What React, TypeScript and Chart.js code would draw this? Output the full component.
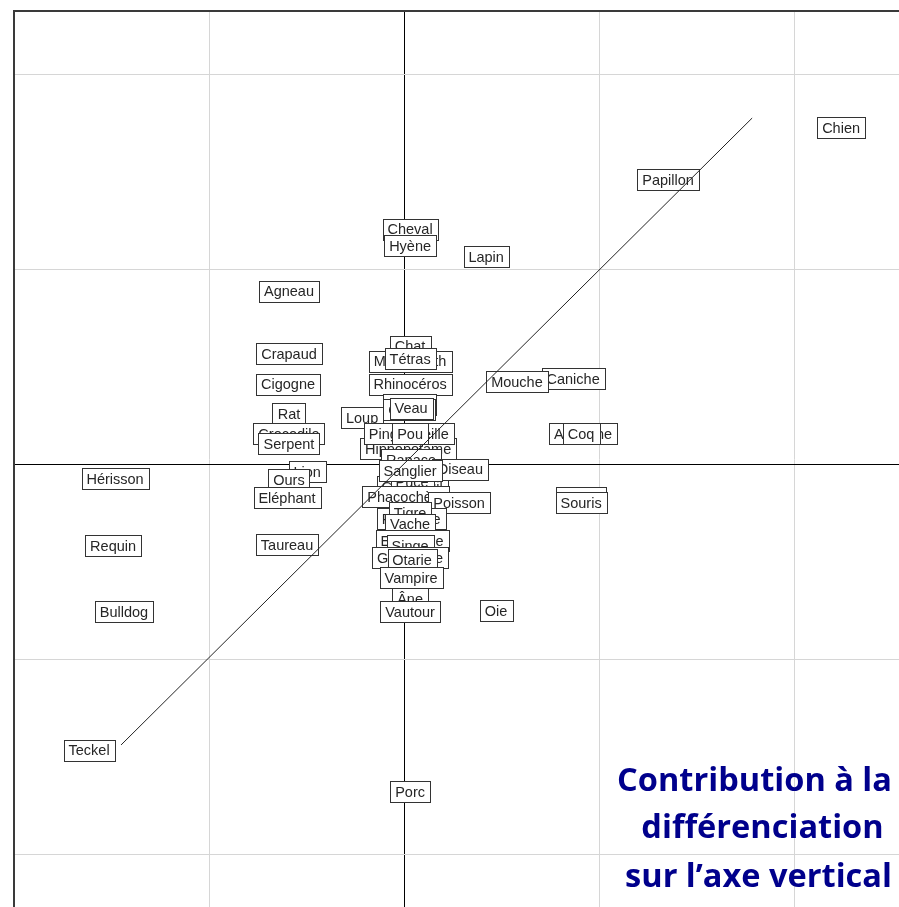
import React, { useEffect, useRef } from "react";
import { Chart, registerables } from "chart.js";

Chart.register(...registerables);

// Animal names, drawn in this order (later ones sit on top)
const animals = [
  "Chien", "Papillon", "Cheval", "Hyène", "Lapin", "Agneau", "Crapaud", "Cigogne", "Rat",
  "Crocodile", "Serpent", "Lion", "Ours", "Eléphant", "Taureau", "Hérisson", "Requin",
  "Bulldog", "Teckel", "Porc", "Oie", "Taupe", "Souris", "Autruche", "Coq", "Caniche",
  "Mouche", "Chat", "Mammouth", "Tétras", "Rhinocéros", "Castor", "Gorille", "Veau", "Loup",
  "Hippopotame", "Pingouin", "Abeille", "Pou", "Rapace", "Chevreuil", "Puce", "Oiseau",
  "Sanglier", "Phacochère", "Poisson", "Panthère", "Tigre", "Vache", "Ecrevisse", "Singe",
  "Grenouille", "Otarie", "Vampire", "Âne", "Vautour",
];

const coordX = [
  2.241, 1.354, 0.031, 0.031, 0.421, -0.59, -0.59, -0.595, -0.59,
  -0.59, -0.59, -0.497, -0.59, -0.6, -0.6, -1.482, -1.492,
  -1.436, -1.615, 0.031, 0.472, 0.908, 0.908, 0.918, 0.908, 0.867,
  0.579, 0.031, 0.031, 0.031, 0.031, 0.026, 0.026, 0.036, -0.215,
  0.021, -0.036, 0.118, 0.031, 0.036, 0.041, 0.041, 0.287,
  0.031, 0.01, 0.282, 0.036, 0.031, 0.031, 0.041, 0.031,
  0.031, 0.041, 0.036, 0.031, 0.031,
];

const coordY = [
  1.728, 1.462, 1.21, 1.123, 1.067, 0.892, 0.569, 0.415, 0.262,
  0.159, 0.108, -0.036, -0.077, -0.169, -0.41, -0.072, -0.415,
  -0.754, -1.462, -1.677, -0.749, -0.169, -0.195, 0.159, 0.159, 0.441,
  0.426, 0.61, 0.533, 0.544, 0.415, 0.308, 0.282, 0.292, 0.241,
  0.082, 0.159, 0.159, 0.159, 0.026, -0.113, -0.087, -0.021,
  -0.031, -0.164, -0.195, -0.277, -0.246, -0.303, -0.39, -0.415,
  -0.477, -0.487, -0.579, -0.687, -0.754,
];

const diagonalX = [-1.451, 1.785];
const diagonalY = [-1.436, 1.779];

const gridSteps = [-2, -1, 0, 1, 2];

const noteLines = ["Contribution à la", "différenciation", "sur l’axe vertical"];

const labelPlugin = {
  id: "boxLabels",
  beforeDatasetsDraw(chart: any) {
    const meta = chart.getDatasetMeta(0);
    const ctx = chart.ctx;
    ctx.save();
    ctx.font = '14.5px "Liberation Sans", Arial, sans-serif';
    ctx.textAlign = "center";
    ctx.textBaseline = "middle";
    meta.data.forEach((pt: any, i: number) => {
      const name = animals[i];
      const w = Math.round(ctx.measureText(name).width + 10);
      const h = 21;
      const x = Math.round(pt.x - w / 2) + 0.5;
      const y = Math.round(pt.y - h / 2) + 0.5;
      ctx.fillStyle = "#ffffff";
      ctx.fillRect(x, y, w, h);
      ctx.strokeStyle = "#333333";
      ctx.lineWidth = 1;
      ctx.strokeRect(x, y, w, h);
      ctx.fillStyle = "#262626";
      ctx.fillText(name, pt.x, pt.y + 1);
    });
    ctx.restore();
  },
};

const notePlugin = {
  id: "note",
  afterDraw(chart: any) {
    const ctx = chart.ctx;
    ctx.save();
    ctx.fillStyle = "#00008c";
    ctx.textBaseline = "alphabetic";
    ctx.textAlign = "center";
    ctx.font = 'bold 32px "Open Sans", sans-serif';
    const w0 = ctx.measureText(noteLines[0]).width;
    const size = 32 * (275 / w0);
    ctx.font = `bold ${size.toFixed(2)}px "Open Sans", sans-serif`;
    const centers = [754.5, 762.5, 758.5];
    const baselines = [791, 838, 887];
    noteLines.forEach((line, i) => ctx.fillText(line, centers[i], baselines[i]));
    ctx.restore();
  },
};

function gridColor(c: any) {
  const v = c.tick ? c.tick.value : NaN;
  if (Math.abs(v) < 1e-9) return "#000000";
  return "#d6d6d6";
}

export default function App() {
  const ref = useRef<HTMLCanvasElement | null>(null);
  useEffect(() => {
    if (!ref.current) return;
    const chart = new Chart(ref.current, {
      type: "scatter",
      data: {
        datasets: [
          {
            label: "animaux",
            data: animals.map((_, i) => ({ x: coordX[i], y: coordY[i] })),
            pointRadius: 0,
            pointHoverRadius: 0,
          },
          {
            label: "diagonale",
            data: diagonalX.map((x, i) => ({ x, y: diagonalY[i] })),
            showLine: true,
            borderColor: "#222222",
            borderWidth: 1,
            pointRadius: 0,
          },
        ],
      },
      options: {
        animation: false,
        responsive: false,
        events: [],
        layout: { padding: { left: 14, top: 11, right: 0, bottom: 0 } },
        plugins: { legend: { display: false }, tooltip: { enabled: false } },
        scales: {
          x: {
            type: "linear",
            position: "top",
            min: -2.0,
            max: 2.538,
            afterBuildTicks: (s: any) => {
              s.ticks = gridSteps.map((v) => ({ value: v }));
            },
            ticks: { display: false },
            grid: { color: gridColor, lineWidth: 1, drawTicks: false },
            border: { display: true, color: "#3a3a3a", width: 2 },
          },
          y: {
            type: "linear",
            position: "left",
            min: -2.267,
            max: 2.328,
            afterBuildTicks: (s: any) => {
              s.ticks = gridSteps.map((v) => ({ value: v }));
            },
            ticks: { display: false },
            grid: { color: gridColor, lineWidth: 1, drawTicks: false },
            border: { display: true, color: "#3a3a3a", width: 2 },
          },
        },
      },
      plugins: [labelPlugin, notePlugin],
    });
    return () => chart.destroy();
  }, []);
  return (
    <canvas
      ref={ref}
      width={899}
      height={907}
      style={{ position: "fixed", left: 0, top: 0, width: 899, height: 907, background: "#fff" }}
    />
  );
}
